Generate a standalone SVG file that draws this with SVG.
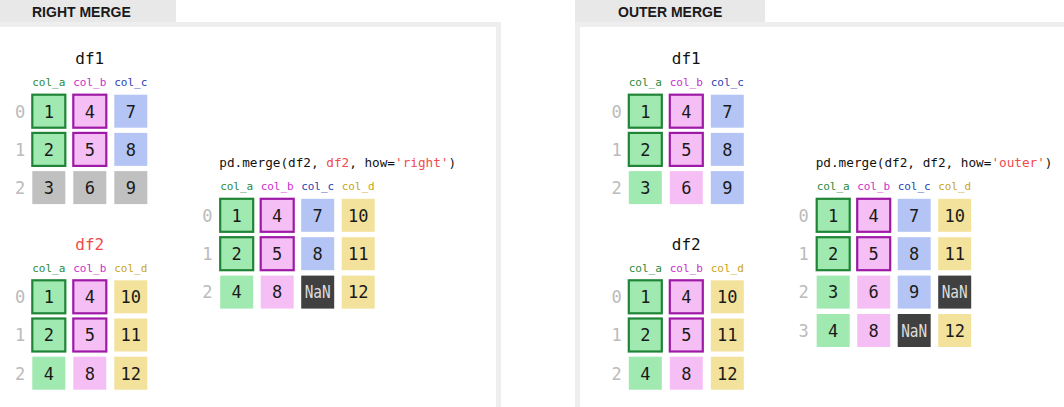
<svg xmlns="http://www.w3.org/2000/svg" width="1064" height="407" viewBox="0 0 1064 407">
<style>
.tab{fill:#e8e8e8}
.band{fill:#eeeeee}
.tabt{font-family:"Liberation Sans",Arial,sans-serif;font-weight:bold;font-size:14px;fill:#1a1a1a}
.mono{font-family:"DejaVu Sans Mono","Liberation Mono",monospace}
.title{font-size:16px;fill:#111;text-anchor:middle}
.red{fill:#f24b4b}
.hdr{font-size:11px;text-anchor:middle}
.ha{fill:#2a8a40}.hb{fill:#cc2ccc}.hc{fill:#2a3fb0}.hd{fill:#c9a514}
.idx{font-size:17px;fill:#bbbbbb;text-anchor:middle}
.v{font-size:17px;fill:#1a1a1a;text-anchor:middle}
.nan{font-size:17px;fill:#dddddd;text-anchor:middle}
.code{font-size:12.7px;fill:#111}
.a{fill:#a0e9b1}.b{fill:#f5bff5}.c{fill:#b4c5f5}.d{fill:#f3e29b}.g{fill:#c0c0c0}.n{fill:#404040}
.ka{stroke:#1f8436;stroke-width:2.2}
.kb{stroke:#9e1aa6;stroke-width:2.2}
</style>
<defs>
<rect id="cell" width="33" height="33"/>
</defs>

<g id="right-merge-panel">
<rect class="tab" x="0" y="0" width="176" height="22"/>
<rect class="band" x="0" y="22" width="501" height="5"/>
<rect class="band" x="496" y="22" width="5" height="385"/>
<text class="tabt" x="32" y="17">RIGHT MERGE</text>
</g>

<g id="outer-merge-panel">
<rect class="tab" x="575" y="0" width="190" height="22"/>
<rect class="band" x="575" y="22" width="489" height="5"/>
<rect class="band" x="575" y="22" width="5" height="385"/>
<text class="tabt" x="618" y="17">OUTER MERGE</text>
</g>

<!-- RIGHT MERGE: df1 -->
<g id="rm-df1" class="mono">
<text class="title" x="89.8" y="64">df1</text>
<text class="hdr ha" x="48.8" y="86">col_a</text>
<text class="hdr hb" x="89.8" y="86">col_b</text>
<text class="hdr hc" x="130.8" y="86">col_c</text>
<text class="idx" x="20" y="117.5">0</text>
<text class="idx" x="20" y="155.7">1</text>
<text class="idx" x="20" y="193.9">2</text>
<use href="#cell" class="a ka" x="32.3" y="94.7"/>
<use href="#cell" class="b kb" x="73.3" y="94.7"/>
<use href="#cell" class="c" x="114.3" y="94.7"/>
<use href="#cell" class="a ka" x="32.3" y="132.9"/>
<use href="#cell" class="b kb" x="73.3" y="132.9"/>
<use href="#cell" class="c" x="114.3" y="132.9"/>
<use href="#cell" class="g" x="32.3" y="171.1"/>
<use href="#cell" class="g" x="73.3" y="171.1"/>
<use href="#cell" class="g" x="114.3" y="171.1"/>
<text class="v" x="48.8" y="117.5">1</text>
<text class="v" x="89.8" y="117.5">4</text>
<text class="v" x="130.8" y="117.5">7</text>
<text class="v" x="48.8" y="155.7">2</text>
<text class="v" x="89.8" y="155.7">5</text>
<text class="v" x="130.8" y="155.7">8</text>
<text class="v" x="48.8" y="193.9">3</text>
<text class="v" x="89.8" y="193.9">6</text>
<text class="v" x="130.8" y="193.9">9</text>
</g>

<!-- RIGHT MERGE: df2 -->
<g id="rm-df2" class="mono">
<text class="title red" x="89.8" y="249.6">df2</text>
<text class="hdr ha" x="48.8" y="271.6">col_a</text>
<text class="hdr hb" x="89.8" y="271.6">col_b</text>
<text class="hdr hd" x="130.8" y="271.6">col_d</text>
<text class="idx" x="20" y="303.1">0</text>
<text class="idx" x="20" y="341.3">1</text>
<text class="idx" x="20" y="379.5">2</text>
<use href="#cell" class="a ka" x="32.3" y="280.3"/>
<use href="#cell" class="b kb" x="73.3" y="280.3"/>
<use href="#cell" class="d" x="114.3" y="280.3"/>
<use href="#cell" class="a ka" x="32.3" y="318.5"/>
<use href="#cell" class="b kb" x="73.3" y="318.5"/>
<use href="#cell" class="d" x="114.3" y="318.5"/>
<use href="#cell" class="a" x="32.3" y="356.7"/>
<use href="#cell" class="b" x="73.3" y="356.7"/>
<use href="#cell" class="d" x="114.3" y="356.7"/>
<text class="v" x="48.8" y="303.1">1</text>
<text class="v" x="89.8" y="303.1">4</text>
<text class="v" x="130.8" y="303.1">10</text>
<text class="v" x="48.8" y="341.3">2</text>
<text class="v" x="89.8" y="341.3">5</text>
<text class="v" x="130.8" y="341.3">11</text>
<text class="v" x="48.8" y="379.5">4</text>
<text class="v" x="89.8" y="379.5">8</text>
<text class="v" x="130.8" y="379.5">12</text>
</g>

<!-- RIGHT MERGE: result -->
<g id="rm-result" class="mono">
<text class="code" x="219.3" y="166.5">pd.merge(df2, <tspan class="red">df2</tspan>, how=<tspan class="red">'right'</tspan>)</text>
<text class="hdr ha" x="236.7" y="190">col_a</text>
<text class="hdr hb" x="277.2" y="190">col_b</text>
<text class="hdr hc" x="317.7" y="190">col_c</text>
<text class="hdr hd" x="358.2" y="190">col_d</text>
<text class="idx" x="207.3" y="221.6">0</text>
<text class="idx" x="207.3" y="260">1</text>
<text class="idx" x="207.3" y="298.4">2</text>
<use href="#cell" class="a ka" x="220.2" y="198.8"/>
<use href="#cell" class="b kb" x="260.7" y="198.8"/>
<use href="#cell" class="c" x="301.2" y="198.8"/>
<use href="#cell" class="d" x="341.7" y="198.8"/>
<use href="#cell" class="a ka" x="220.2" y="237.2"/>
<use href="#cell" class="b kb" x="260.7" y="237.2"/>
<use href="#cell" class="c" x="301.2" y="237.2"/>
<use href="#cell" class="d" x="341.7" y="237.2"/>
<use href="#cell" class="a" x="220.2" y="275.6"/>
<use href="#cell" class="b" x="260.7" y="275.6"/>
<use href="#cell" class="n" x="301.2" y="275.6"/>
<use href="#cell" class="d" x="341.7" y="275.6"/>
<text class="v" x="236.7" y="221.6">1</text>
<text class="v" x="277.2" y="221.6">4</text>
<text class="v" x="317.7" y="221.6">7</text>
<text class="v" x="358.2" y="221.6">10</text>
<text class="v" x="236.7" y="260">2</text>
<text class="v" x="277.2" y="260">5</text>
<text class="v" x="317.7" y="260">8</text>
<text class="v" x="358.2" y="260">11</text>
<text class="v" x="236.7" y="298.4">4</text>
<text class="v" x="277.2" y="298.4">8</text>
<text class="nan" x="317.7" y="298.4" textLength="26" lengthAdjust="spacingAndGlyphs">NaN</text>
<text class="v" x="358.2" y="298.4">12</text>
</g>

<!-- OUTER MERGE: df1 -->
<g id="om-df1" class="mono">
<text class="title" x="686.3" y="64">df1</text>
<text class="hdr ha" x="645.3" y="86">col_a</text>
<text class="hdr hb" x="686.3" y="86">col_b</text>
<text class="hdr hc" x="727.3" y="86">col_c</text>
<text class="idx" x="616.5" y="117.5">0</text>
<text class="idx" x="616.5" y="155.7">1</text>
<text class="idx" x="616.5" y="193.9">2</text>
<use href="#cell" class="a ka" x="628.8" y="94.7"/>
<use href="#cell" class="b kb" x="669.8" y="94.7"/>
<use href="#cell" class="c" x="710.8" y="94.7"/>
<use href="#cell" class="a ka" x="628.8" y="132.9"/>
<use href="#cell" class="b kb" x="669.8" y="132.9"/>
<use href="#cell" class="c" x="710.8" y="132.9"/>
<use href="#cell" class="a" x="628.8" y="171.1"/>
<use href="#cell" class="b" x="669.8" y="171.1"/>
<use href="#cell" class="c" x="710.8" y="171.1"/>
<text class="v" x="645.3" y="117.5">1</text>
<text class="v" x="686.3" y="117.5">4</text>
<text class="v" x="727.3" y="117.5">7</text>
<text class="v" x="645.3" y="155.7">2</text>
<text class="v" x="686.3" y="155.7">5</text>
<text class="v" x="727.3" y="155.7">8</text>
<text class="v" x="645.3" y="193.9">3</text>
<text class="v" x="686.3" y="193.9">6</text>
<text class="v" x="727.3" y="193.9">9</text>
</g>

<!-- OUTER MERGE: df2 -->
<g id="om-df2" class="mono">
<text class="title" x="686.3" y="249.6">df2</text>
<text class="hdr ha" x="645.3" y="271.6">col_a</text>
<text class="hdr hb" x="686.3" y="271.6">col_b</text>
<text class="hdr hd" x="727.3" y="271.6">col_d</text>
<text class="idx" x="616.5" y="303.1">0</text>
<text class="idx" x="616.5" y="341.3">1</text>
<text class="idx" x="616.5" y="379.5">2</text>
<use href="#cell" class="a ka" x="628.8" y="280.3"/>
<use href="#cell" class="b kb" x="669.8" y="280.3"/>
<use href="#cell" class="d" x="710.8" y="280.3"/>
<use href="#cell" class="a ka" x="628.8" y="318.5"/>
<use href="#cell" class="b kb" x="669.8" y="318.5"/>
<use href="#cell" class="d" x="710.8" y="318.5"/>
<use href="#cell" class="a" x="628.8" y="356.7"/>
<use href="#cell" class="b" x="669.8" y="356.7"/>
<use href="#cell" class="d" x="710.8" y="356.7"/>
<text class="v" x="645.3" y="303.1">1</text>
<text class="v" x="686.3" y="303.1">4</text>
<text class="v" x="727.3" y="303.1">10</text>
<text class="v" x="645.3" y="341.3">2</text>
<text class="v" x="686.3" y="341.3">5</text>
<text class="v" x="727.3" y="341.3">11</text>
<text class="v" x="645.3" y="379.5">4</text>
<text class="v" x="686.3" y="379.5">8</text>
<text class="v" x="727.3" y="379.5">12</text>
</g>

<!-- OUTER MERGE: result -->
<g id="om-result" class="mono">
<text class="code" x="815.7" y="166.5">pd.merge(df2, df2, how=<tspan class="red">'outer'</tspan>)</text>
<text class="hdr ha" x="833.2" y="190">col_a</text>
<text class="hdr hb" x="873.7" y="190">col_b</text>
<text class="hdr hc" x="914.2" y="190">col_c</text>
<text class="hdr hd" x="954.7" y="190">col_d</text>
<text class="idx" x="803.5" y="221.6">0</text>
<text class="idx" x="803.5" y="260">1</text>
<text class="idx" x="803.5" y="298.4">2</text>
<text class="idx" x="803.5" y="336.8">3</text>
<use href="#cell" class="a ka" x="816.7" y="198.8"/>
<use href="#cell" class="b kb" x="857.2" y="198.8"/>
<use href="#cell" class="c" x="897.7" y="198.8"/>
<use href="#cell" class="d" x="938.2" y="198.8"/>
<use href="#cell" class="a ka" x="816.7" y="237.2"/>
<use href="#cell" class="b kb" x="857.2" y="237.2"/>
<use href="#cell" class="c" x="897.7" y="237.2"/>
<use href="#cell" class="d" x="938.2" y="237.2"/>
<use href="#cell" class="a" x="816.7" y="275.6"/>
<use href="#cell" class="b" x="857.2" y="275.6"/>
<use href="#cell" class="c" x="897.7" y="275.6"/>
<use href="#cell" class="n" x="938.2" y="275.6"/>
<use href="#cell" class="a" x="816.7" y="314"/>
<use href="#cell" class="b" x="857.2" y="314"/>
<use href="#cell" class="n" x="897.7" y="314"/>
<use href="#cell" class="d" x="938.2" y="314"/>
<text class="v" x="833.2" y="221.6">1</text>
<text class="v" x="873.7" y="221.6">4</text>
<text class="v" x="914.2" y="221.6">7</text>
<text class="v" x="954.7" y="221.6">10</text>
<text class="v" x="833.2" y="260">2</text>
<text class="v" x="873.7" y="260">5</text>
<text class="v" x="914.2" y="260">8</text>
<text class="v" x="954.7" y="260">11</text>
<text class="v" x="833.2" y="298.4">3</text>
<text class="v" x="873.7" y="298.4">6</text>
<text class="v" x="914.2" y="298.4">9</text>
<text class="nan" x="954.7" y="298.4" textLength="26" lengthAdjust="spacingAndGlyphs">NaN</text>
<text class="v" x="833.2" y="336.8">4</text>
<text class="v" x="873.7" y="336.8">8</text>
<text class="nan" x="914.2" y="336.8" textLength="26" lengthAdjust="spacingAndGlyphs">NaN</text>
<text class="v" x="954.7" y="336.8">12</text>
</g>
</svg>
